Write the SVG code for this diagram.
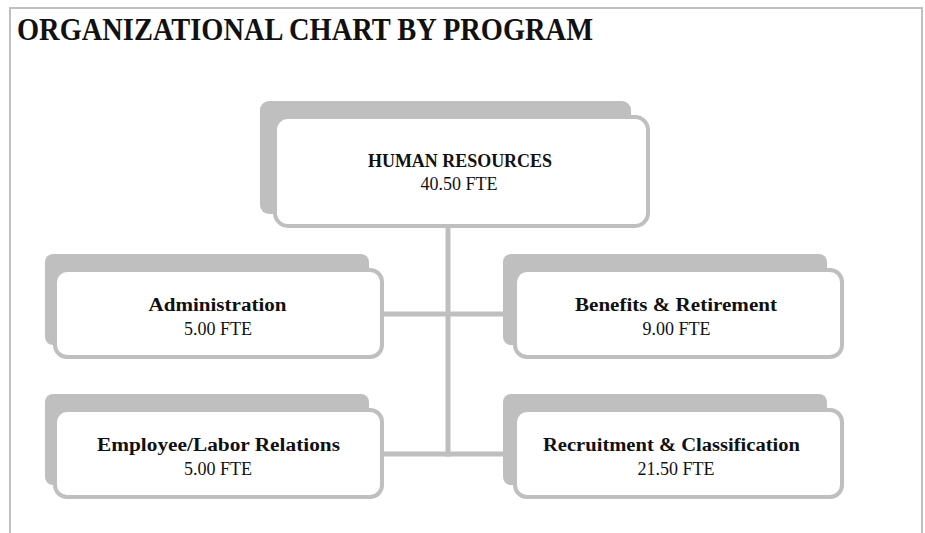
<svg xmlns="http://www.w3.org/2000/svg" width="925" height="533" viewBox="0 0 925 533">
<style>
.frame{fill:none;stroke:#bfbfbf;stroke-width:2}
.shadow{fill:#bfbfbf}
.box{fill:#ffffff;stroke:#bfbfbf;stroke-width:4}
.conn{fill:none;stroke:#bfbfbf;stroke-width:5}
.t{font-family:"Liberation Serif","Times New Roman",serif;font-size:18px;fill:#111111;text-anchor:middle}
.b{font-weight:bold}
.title{font-family:"Liberation Serif","Times New Roman",serif;font-size:32px;font-weight:bold;fill:#111111}
</style>
<rect width="925" height="533" fill="#ffffff"/>
<path class="frame" d="M10,533 V8 H922 V533"/>
<text class="title" x="17" y="39.5" textLength="576" lengthAdjust="spacingAndGlyphs">ORGANIZATIONAL CHART BY PROGRAM</text>
<g id="connectors">
<line class="conn" x1="448" y1="226" x2="448" y2="456.5"/>
<line class="conn" x1="382" y1="314" x2="515" y2="314"/>
<line class="conn" x1="382" y1="454" x2="515" y2="454"/>
</g>
<g id="human-resources">
<rect class="shadow" x="260" y="101" width="371" height="113" rx="9"/>
<rect class="box" x="275" y="117" width="373" height="109" rx="13"/>
<text class="t b" x="460" y="167" textLength="184" lengthAdjust="spacingAndGlyphs">HUMAN RESOURCES</text>
<text class="t" x="459" y="190">40.50 FTE</text>
</g>
<g id="administration">
<rect class="shadow" x="45" y="254" width="324" height="91" rx="8"/>
<rect class="box" x="55" y="270" width="327" height="87" rx="12"/>
<text class="t b" x="217.5" y="311" textLength="138" lengthAdjust="spacingAndGlyphs">Administration</text>
<text class="t" x="218" y="335">5.00 FTE</text>
</g>
<g id="benefits-retirement">
<rect class="shadow" x="503" y="254" width="324" height="91" rx="8"/>
<rect class="box" x="515" y="270" width="327" height="87" rx="12"/>
<text class="t b" x="676" y="311" textLength="202" lengthAdjust="spacingAndGlyphs">Benefits &amp; Retirement</text>
<text class="t" x="676.5" y="335">9.00 FTE</text>
</g>
<g id="employee-labor-relations">
<rect class="shadow" x="45" y="394" width="324" height="91" rx="8"/>
<rect class="box" x="55" y="410" width="327" height="87" rx="12"/>
<text class="t b" x="218.5" y="451" textLength="243" lengthAdjust="spacingAndGlyphs">Employee/Labor Relations</text>
<text class="t" x="218" y="475">5.00 FTE</text>
</g>
<g id="recruitment-classification">
<rect class="shadow" x="503" y="394" width="324" height="91" rx="8"/>
<rect class="box" x="515" y="410" width="327" height="87" rx="12"/>
<text class="t b" x="671.5" y="451" textLength="257" lengthAdjust="spacingAndGlyphs">Recruitment &amp; Classification</text>
<text class="t" x="676" y="475">21.50 FTE</text>
</g>
</svg>
